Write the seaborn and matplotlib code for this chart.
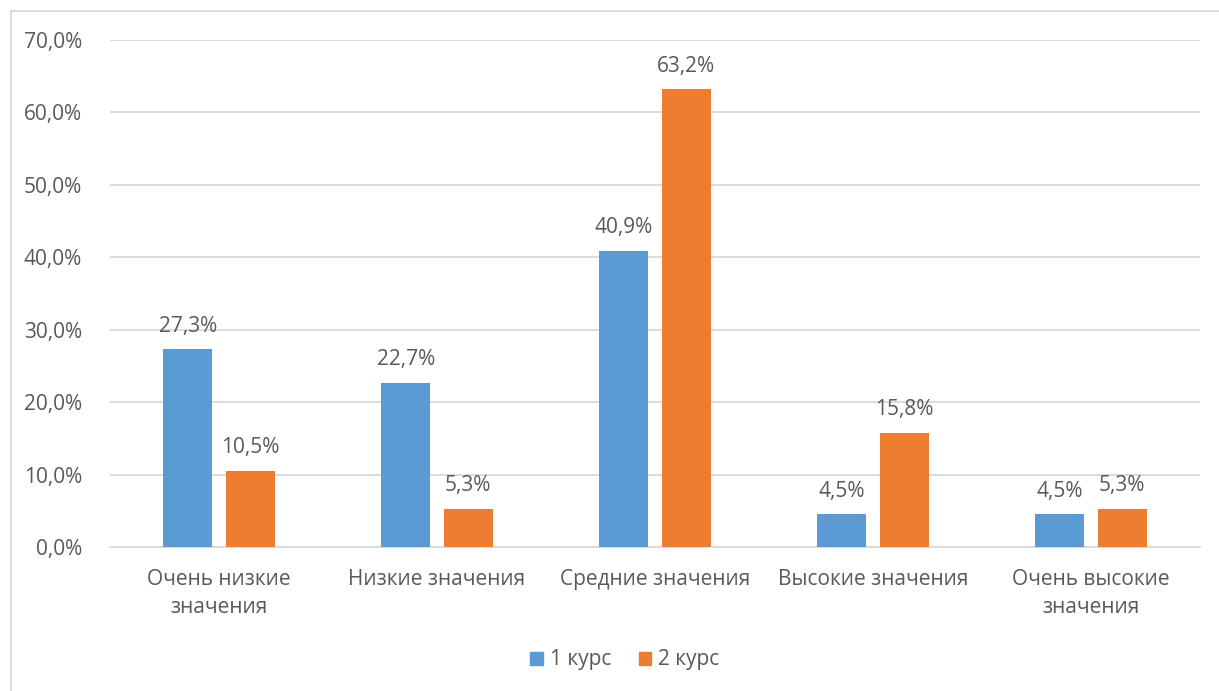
import matplotlib
matplotlib.use("Agg")
import matplotlib.pyplot as plt
import seaborn as sns
import pandas as pd
from matplotlib.patches import Rectangle

categories = ["Очень низкие\nзначения", "Низкие значения", "Средние значения",
              "Высокие значения", "Очень высокие\nзначения"]
series_names = ["1 курс", "2 курс"]
course1 = [27.3, 22.7, 40.9, 4.5, 4.5]
course2 = [10.5, 5.3, 63.2, 15.8, 5.3]
y_ticks = [0, 10, 20, 30, 40, 50, 60, 70]

colors = ["#5B9BD5", "#ED7D31"]
text_color = "#595959"
grid_color = "#D9D9D9"
fs = 15

df = pd.DataFrame({
    "category": categories * 2,
    "series": [series_names[0]] * len(categories) + [series_names[1]] * len(categories),
    "value": course1 + course2,
})

sns.set_theme(style="white")
plt.rcParams["font.family"] = ["Open Sans", "DejaVu Sans"]

fig = plt.figure(figsize=(12.19, 6.91), dpi=100)
ax = fig.add_axes([110 / 1219, 1 - 547 / 691, 1090 / 1219, 507 / 691])

sns.barplot(data=df, x="category", y="value", hue="series", palette=colors,
            width=0.57, gap=0.21, saturation=1, linewidth=0, ax=ax,
            legend=False, zorder=3)

ax.set_ylim(0, 70)
ax.set_yticks(y_ticks)
ax.set_yticklabels([f"{v:.1f}%".replace(".", ",") for v in y_ticks])
ax.set_xlim(-0.5, len(categories) - 0.5)
ax.yaxis.grid(True, color=grid_color, linewidth=1.3, zorder=0)
ax.set_axisbelow(True)
for side in ["top", "right", "left"]:
    ax.spines[side].set_visible(False)
ax.spines["bottom"].set_color(grid_color)
ax.spines["bottom"].set_linewidth(1.3)
ax.tick_params(axis="both", length=0, labelsize=fs, labelcolor=text_color)
ax.tick_params(axis="y", pad=20)
ax.tick_params(axis="x", pad=16)
for lbl in ax.get_xticklabels():
    lbl.set_linespacing(1.45)
ax.set_xlabel("")
ax.set_ylabel("")

for container in ax.containers:
    ax.bar_label(container, labels=[f"{b.get_height():.1f}%".replace(".", ",") for b in container],
                 padding=9, fontsize=fs, color=text_color)

handles = [Rectangle((0, 0), 1, 1, color=c) for c in colors]
fig.legend(handles, series_names, loc="center", bbox_to_anchor=(625 / 1219, 1 - 660 / 691),
           ncol=2, frameon=False, fontsize=fs, labelcolor=text_color,
           handlelength=0.6, handleheight=0.6, handletextpad=0.35, columnspacing=1.3)

# chart area border
fig.patches.append(Rectangle((11 / 1219, -0.01), 1.0, 1 - 11 / 691 + 0.01,
                             transform=fig.transFigure, fill=False,
                             edgecolor=grid_color, linewidth=1.3))

fig.savefig("out.png", dpi=100)
